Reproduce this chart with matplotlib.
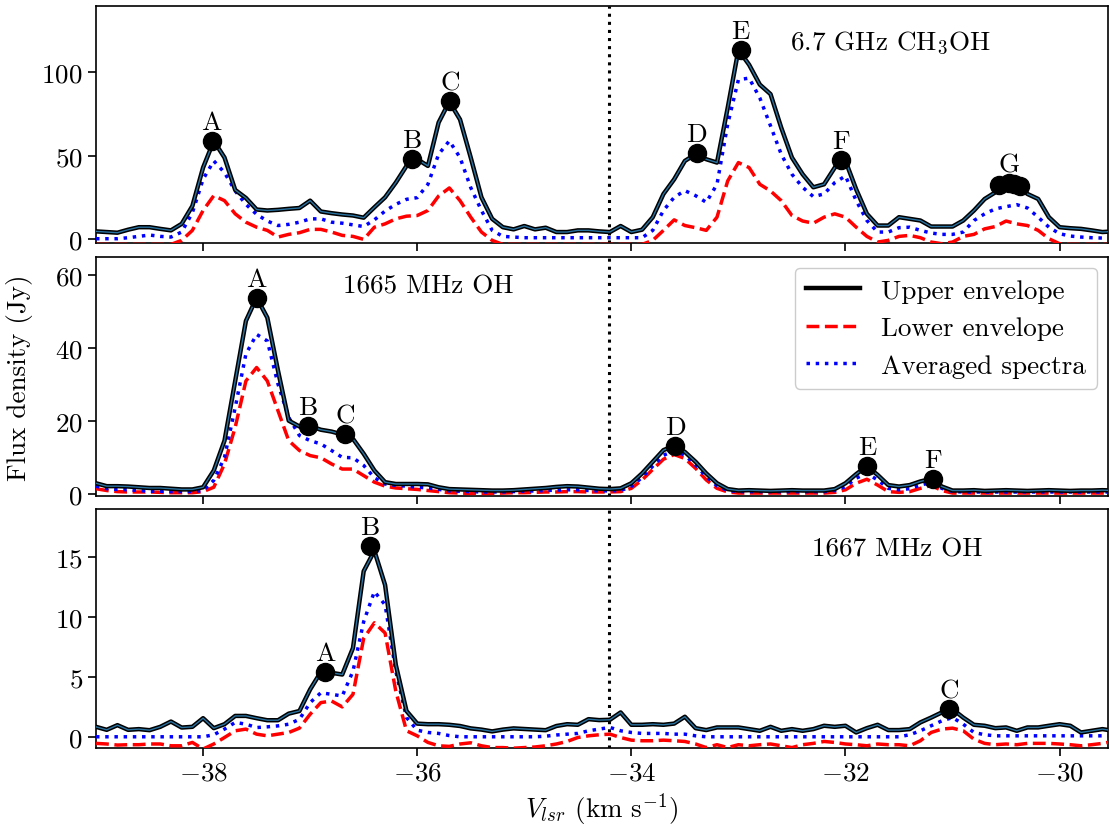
import numpy as np
import matplotlib
matplotlib.use("Agg")
import matplotlib.pyplot as plt

plt.rcParams['font.family'] = 'serif'
plt.rcParams['font.serif'] = ['cmr10']
plt.rcParams['mathtext.fontset'] = 'cm'
plt.rcParams['axes.formatter.use_mathtext'] = True
plt.rcParams['axes.unicode_minus'] = True

# velocity channels (km/s)
velocity = np.round(np.arange(-39.0, -29.45, 0.1), 2)

# ---- 6.7 GHz CH3OH ----
ch3oh_upper = [4.8, 4.4, 4.0, 5.8, 7.3, 7.3, 6.3, 5.4, 9.3, 20,
               43, 59, 49, 29.6, 24.8, 17.9, 17.3, 17.7, 18.3, 18.8,
               23.2, 16.7, 15.7, 14.9, 14.3, 13, 19.2, 25.2, 34, 44,
               48, 44, 70, 82.5, 71.8, 49, 25.2, 12.3, 7.3, 6,
               8, 6, 7, 4.4, 4.4, 5.4, 5.4, 4.8, 4.4, 8,
               4.4, 5.8, 13.3, 27.2, 36, 47, 51, 48, 46, 78.8,
               113.5, 104.6, 92.7, 87, 66.9, 49, 39, 31.2, 33, 43,
               47, 30, 15.3, 8.3, 8.3, 13.3, 12.3, 11.3, 7.7, 7.7,
               7.7, 11.3, 17.3, 24.2, 28.2, 33, 32.5, 27.2, 24.2, 13.3,
               7.3, 6.7, 6.3, 5.4, 4.4, 4.8]
ch3oh_lower = [-3, -3, -3, -3, -3, -3, -3, -3, -0.6, 5.4,
               17.3, 26.2, 23.2, 15.3, 10.3, 7.3, 5.4, 1.4, 3, 4,
               6, 6, 4.4, 2.4, 1.8, 0, 7.3, 9.3, 12.3, 13.9,
               14.3, 17.3, 26, 30.8, 23.2, 13.3, 4.4, -0.6, -3, -3,
               -3, -3, -3, -3, -3, -3, -3, -3, -3, -3,
               -3, -3, -0.6, 5.4, 11.7, 8.3, 7, 5.4, 13.3, 35,
               46, 43, 33, 29, 23.2, 14.3, 11, 9.7, 13.3, 15.3,
               13.3, 7.3, 1.8, -1.6, -0.6, 1.8, 2.4, 1, -1.6, -2.6,
               -1.6, 1.8, 3, 6.3, 7.7, 11, 9.3, 8.3, 5.4, 0.4,
               -2.6, -3, -3, -3, -3, -3]
ch3oh_avg = [0.4, 0.4, 0.4, 1, 1.8, 2.6, 1.8, 1.4, 4.4, 16,
             36, 47, 40, 29, 21, 15, 11, 8.3, 9, 10.3,
             12.3, 12.3, 10.3, 9.7, 8.7, 7.7, 11.7, 17, 21, 24,
             25, 33, 51, 59, 49, 31, 17.3, 5.4, 1.8, 1.4,
             1, 1, 1, 1, 1, 1, 1, 1, 1, 1,
             1, 1, 5.4, 17.3, 25.2, 29.2, 26.2, 22.2, 33, 69,
             95.6, 96.6, 84.7, 68, 51, 39, 31.2, 25.6, 27.2, 34,
             38, 23.2, 11.3, 4.4, 4.4, 7, 7.3, 5.4, 3.8, 3,
             3, 4.4, 11.3, 15.3, 18.3, 19.6, 20.8, 18.8, 13.3, 7.3,
             3.4, 2, 1.4, 1, 0.8, 0.8]
ch3oh_peak_labels = ['A', 'B', 'C', 'D', 'E', 'F', 'G']
ch3oh_peak_v = [-37.92, -36.05, -35.69, -33.39, -32.98, -32.04, -30.47]
ch3oh_peak_flux = [58.9, 48.4, 82.7, 51.5, 113.5, 47.4, 33.5]
ch3oh_extra_v = [-30.57, -30.43, -30.37]
ch3oh_extra_flux = [32.5, 33.2, 32.2]

# ---- 1665 MHz OH ----
oh1665_upper = [2.9, 2.1, 2.1, 2.0, 1.8, 1.6, 1.6, 1.4, 1.2, 1.2,
                1.8, 6.4, 14.6, 31, 47.5, 53.9, 48.4, 33.8, 20.1, 18.5,
                18.6, 17.6, 17.1, 16.3, 15.1, 11, 6.4, 3.2, 2.7, 2.7,
                2.7, 2.6, 1.8, 1.3, 1.2, 1.1, 1.0, 0.9, 0.9, 1.0,
                1.2, 1.4, 1.6, 1.9, 2.1, 2.0, 1.7, 1.4, 1.3, 1.5,
                2.9, 5.6, 8.8, 12, 13.2, 11.5, 8.8, 5.6, 2.9, 1.3,
                0.9, 1.0, 0.9, 0.8, 0.9, 1.0, 0.9, 0.9, 0.9, 1.3,
                2.9, 5.4, 7.6, 5.2, 2.4, 2.0, 2.4, 3.4, 4.1, 2.0,
                0.9, 0.9, 1.0, 0.8, 0.9, 1.0, 0.9, 0.8, 0.9, 1.0,
                0.9, 0.8, 0.9, 0.9, 1.0, 0.9]
oh1665_lower = [1.4, 0.9, 0.6, 0.5, 0.5, 0.5, 0.4, 0.3, 0.3, 0.3,
                0.6, 1.8, 8.2, 18.3, 31, 34.7, 31, 22.8, 14.6, 11.9,
                10.5, 9.9, 8.2, 6.8, 6.8, 5, 3.2, 2.1, 1.6, 1.4,
                1.2, 0.9, 0.6, 0.3, 0.2, 0.1, 0.1, 0.1, 0.2, 0.3,
                0.3, 0.4, 0.5, 0.5, 0.6, 0.6, 0.5, 0.5, 0.5, 0.6,
                1.5, 3.8, 6.7, 9.5, 10.8, 9.7, 7, 3.8, 1.5, 0.5,
                0.2, 0.2, 0.2, 0.2, 0.2, 0.2, 0.2, 0.2, 0.2, 0.4,
                1.1, 2.9, 4, 2.4, 0.6, 0.4, 0.6, 1.5, 2.3, 0.9,
                0.2, 0.2, 0.2, 0.2, 0.2, 0.2, 0.2, 0.2, 0.2, 0.2,
                0.2, 0.2, 0.2, 0.2, 0.2, 0.2]
oh1665_avg = [2.1, 1.4, 1.2, 1.1, 0.9, 0.7, 0.7, 0.6, 0.6, 0.6,
              0.9, 3.7, 10, 23.7, 38.4, 43.8, 42, 30.1, 21, 16,
              14.6, 13.7, 11.9, 10, 9.9, 7.8, 4.4, 2.7, 2.3, 2.1,
              1.8, 1.6, 1.2, 0.8, 0.7, 0.6, 0.5, 0.5, 0.5, 0.6,
              0.7, 0.8, 0.9, 1.0, 1.1, 1.1, 0.9, 0.8, 0.8, 0.9,
              2, 4.5, 7.6, 10.6, 11.8, 10.6, 7.9, 4.7, 2.2, 0.9,
              0.6, 0.6, 0.6, 0.6, 0.6, 0.6, 0.6, 0.6, 0.6, 0.9,
              2, 4.3, 5.6, 3.8, 1.5, 1.1, 1.4, 2.4, 3.1, 1.5,
              0.6, 0.5, 0.5, 0.5, 0.5, 0.5, 0.5, 0.5, 0.5, 0.5,
              0.5, 0.5, 0.5, 0.5, 0.5, 0.5]
oh1665_peak_labels = ['A', 'B', 'C', 'D', 'E', 'F']
oh1665_peak_v = [-37.5, -37.02, -36.67, -33.59, -31.8, -31.18]
oh1665_peak_flux = [53.9, 18.7, 16.3, 13.2, 7.6, 4.1]

# ---- 1667 MHz OH ----
oh1667_upper = [0.83, 0.58, 0.97, 0.58, 0.64, 0.55, 0.83, 1.27, 0.77, 0.83,
                1.55, 0.72, 1.05, 1.74, 1.74, 1.55, 1.38, 1.38, 1.93, 2.15,
                3.95, 5.4, 5.33, 5.19, 7.4, 13.8, 15.5, 12.65, 6.0, 2.15,
                1.1, 1.05, 1.05, 1.0, 0.9, 0.7, 0.6, 0.45, 0.6, 0.7,
                0.65, 0.6, 0.55, 0.9, 1.05, 1.0, 1.47, 1.39, 1.42, 2.03,
                1.0, 1.0, 1.05, 1.0, 1.1, 1.67, 0.72, 0.56, 0.78, 0.78,
                0.78, 0.64, 0.5, 0.83, 0.5, 0.64, 0.5, 0.64, 0.92, 0.83,
                0.92, 0.36, 0.72, 1.0, 0.56, 0.56, 0.64, 1.2, 1.6, 2.03,
                2.3, 1.6, 1.0, 0.92, 0.72, 0.78, 0.5, 0.78, 0.78, 0.92,
                1.05, 0.92, 0.36, 0.5, 0.64, 0.5]
oh1667_lower = [-0.55, -0.6, -0.69, -0.66, -0.66, -0.6, -0.6, -0.75, -0.75, -0.47,
                -1.02, -0.6, -0.06, 0.5, 0.64, 0.22, 0.08, 0.22, 0.36, 0.72,
                1.88, 2.85, 2.98, 2.49, 3.54, 8.2, 9.5, 8.65, 3.8, 0.5,
                0.08, -0.47, -0.75, -0.8, -0.6, -0.5, -0.75, -0.9, -0.9, -0.95,
                -0.9, -0.85, -0.75, -0.6, -0.39, -0.06, 0.08, 0.17, 0.22, -0.06,
                -0.28, -0.33, -0.33, -0.28, -0.33, -0.39, -0.6, -0.9, -0.66, -0.9,
                -0.66, -0.75, -0.66, -0.6, -0.75, -0.9, -0.66, -0.55, -0.39, -0.47,
                -0.6, -0.66, -0.75, -0.6, -0.66, -0.66, -0.75, -0.33, 0.36, 0.64,
                0.72, 0.5, -0.2, -0.55, -0.66, -0.6, -0.66, -0.55, -0.55, -0.55,
                -0.6, -0.66, -0.75, -0.66, -0.55, -0.39]
oh1667_avg = [0.0, 0.0, 0.0, 0.0, 0.0, 0.0, 0.0, 0.0, 0.0, 0.0,
              0.0, 0.17, 0.64, 1.2, 1.05, 0.77, 0.83, 0.91, 1.05, 1.46,
              2.85, 3.67, 3.54, 3.4, 5.47, 9.6, 12.1, 11, 5.47, 1.6,
              0.55, 0.36, 0.28, 0.1, 0.0, 0.0, 0.0, 0.0, 0.0, 0.0,
              0.0, 0.0, 0.05, 0.15, 0.22, 0.28, 0.5, 0.64, 0.78, 0.5,
              0.36, 0.28, 0.28, 0.28, 0.22, 0.22, 0.08, 0.0, 0.0, 0.0,
              0.0, 0.0, 0.0, 0.0, 0.0, 0.0, 0.0, 0.0, 0.0, 0.0,
              0.0, 0.0, 0.0, 0.0, 0.0, 0.0, 0.17, 0.5, 0.92, 1.33,
              1.6, 1.05, 0.36, 0.17, 0.08, 0.08, 0.08, 0.08, 0.08, 0.08,
              0.08, 0.08, 0.08, 0.08, 0.08, 0.08]
oh1667_peak_labels = ['A', 'B', 'C']
oh1667_peak_v = [-36.86, -36.44, -31.03]
oh1667_peak_flux = [5.4, 15.9, 2.3]

v_ref = -34.21

panels = [
    dict(up=ch3oh_upper, lo=ch3oh_lower, av=ch3oh_avg, labels=ch3oh_peak_labels,
         pv=ch3oh_peak_v, pf=ch3oh_peak_flux, ev=ch3oh_extra_v, ef=ch3oh_extra_flux,
         ylim=(-2, 140), yticks=[0, 50, 100], title='6.7 GHz CH$_3$OH', tpos=(0.686, 0.848),
         rect=[0.0865, 0.7060, 0.9115, 0.2860]),
    dict(up=oh1665_upper, lo=oh1665_lower, av=oh1665_avg, labels=oh1665_peak_labels,
         pv=oh1665_peak_v, pf=oh1665_peak_flux, ev=[], ef=[],
         ylim=(-0.6, 65), yticks=[0, 20, 40, 60], title='1665 MHz OH', tpos=(0.244, 0.882),
         rect=[0.0865, 0.4005, 0.9115, 0.2880]),
    dict(up=oh1667_upper, lo=oh1667_lower, av=oh1667_avg, labels=oh1667_peak_labels,
         pv=oh1667_peak_v, pf=oh1667_peak_flux, ev=[], ef=[],
         ylim=(-0.9, 19), yticks=[0, 5, 10, 15], title='1667 MHz OH', tpos=(0.708, 0.835),
         rect=[0.0865, 0.0970, 0.9115, 0.2880]),
]

for p in panels:
    for k in ('up', 'lo', 'av'):
        if len(p[k]) != len(velocity):
            raise ValueError(f"{p['title']} {k}: {len(p[k])} != {len(velocity)}")

fig = plt.figure(figsize=(11.1, 8.29), dpi=100)
FS = 19.5
axes = []
for i, p in enumerate(panels):
    ax = fig.add_axes(p['rect'])
    axes.append(ax)
    l1, = ax.plot(velocity, p['up'], color='black', lw=3.2, zorder=4, label='Upper envelope')
    ax.plot(velocity, p['up'], color='#2a72a0', lw=1.0, zorder=5)
    l2, = ax.plot(velocity, p['lo'], color='red', lw=2.5, ls='--', zorder=3, label='Lower envelope')
    l3, = ax.plot(velocity, p['av'], color='blue', lw=2.5, ls=':', zorder=3, label='Averaged spectra')
    ax.plot(p['pv'], p['pf'], 'o', color='black', ms=13, zorder=6)
    if p['ev']:
        ax.plot(p['ev'], p['ef'], 'o', color='black', ms=13, zorder=6)
    for lab, xv, yv in zip(p['labels'], p['pv'], p['pf']):
        ax.annotate(lab, (xv, yv), xytext=(0, 5), textcoords='offset points',
                    ha='center', va='bottom', fontsize=FS, zorder=7)
    ax.axvline(v_ref, color='black', ls=':', lw=2.2, zorder=2)
    ax.set_xlim(-39.0, -29.55)
    ax.set_ylim(*p['ylim'])
    ax.set_yticks(p['yticks'])
    ax.set_xticks([-38, -36, -34, -32, -30])
    ax.tick_params(axis='both', direction='out', length=6, width=1.2, labelsize=FS)
    for s in ax.spines.values():
        s.set_linewidth(1.2)
    ax.text(p['tpos'][0], p['tpos'][1], p['title'], transform=ax.transAxes,
            fontsize=FS, ha='left', va='center')
    if i < 2:
        ax.tick_params(labelbottom=False)
    if i == 1:
        ax.legend(handles=[l1, l2, l3], loc='upper right', fontsize=FS,
                  handlelength=2.0, framealpha=1.0, edgecolor='#cccccc',
                  borderaxespad=0.4)
        ax.set_ylabel('Flux density (Jy)', fontsize=FS)
        ax.yaxis.set_label_coords(-0.062, 0.5)

axes[2].set_xlabel('$V_{lsr}$ (km s$^{-1}$)', fontsize=FS)

fig.savefig('out.png', dpi=100)
